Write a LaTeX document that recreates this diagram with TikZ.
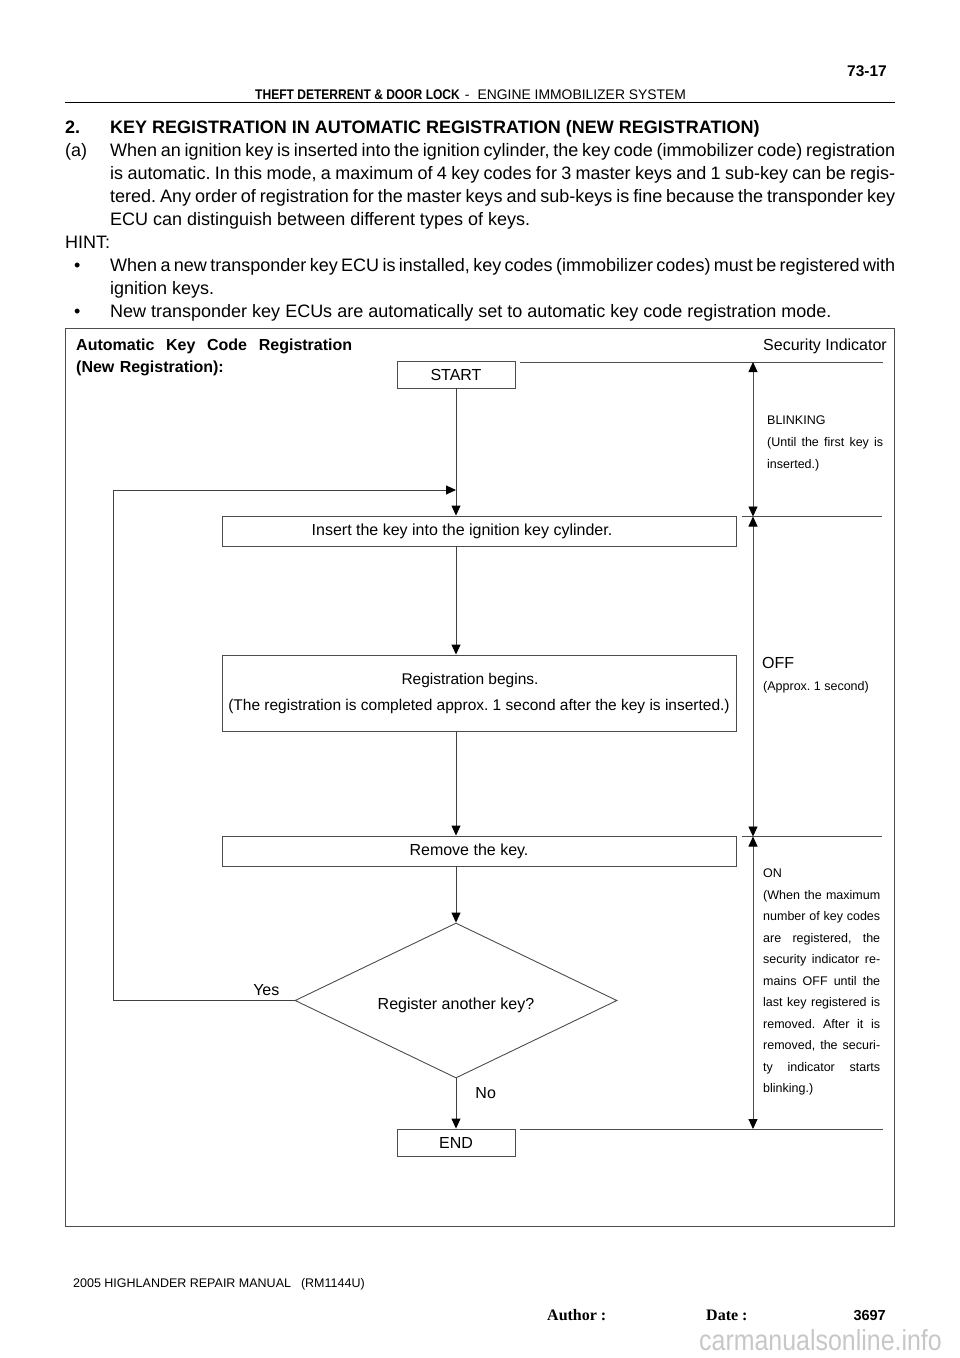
\documentclass[tikz,border=0pt]{standalone}
\usepackage{fontspec}
\setmainfont{Liberation Sans}
\newfontfamily\condsans{Liberation Sans}[FakeStretch=0.86]
\newfontfamily\timesfont{Liberation Serif}
\usetikzlibrary{positioning,arrows.meta,shapes.geometric}
\newcommand{\fillline}[2]{\makebox[#1][s]{\spaceskip=0pt\xspaceskip=0pt #2}}
\frenchspacing

\begin{document}
\begin{tikzpicture}[x=1pt, y=-1pt, inner sep=0pt,
    >={Triangle[length=10pt,width=9pt,color=black]},
    body/.style={anchor=base west, font=\fontsize{18}{23}\selectfont},
    box/.style={draw=black!70, line width=0.9pt, font=\fontsize{16}{26}\selectfont},
    note/.style={anchor=base west, align=left, text width=124pt},
    flow/.style={->, draw=black!75, line width=0.9pt},
    rule/.style={draw=black!70, line width=0.9pt}]
  \useasboundingbox (0,0) rectangle (960,1358);%
  % page header
  \node[anchor=base east, font=\fontsize{15.5}{18}\selectfont\bfseries] (pageno) at (887,76) {73-17};%
  \node[anchor=base west, font=\fontsize{14}{16}\selectfont] (chapter) at (255,99)%
  {{\condsans\bfseries THEFT DETERRENT \& DOOR LOCK}\hspace{5pt}-\hspace{8pt}{\fontsize{13.9}{16}\selectfont ENGINE IMMOBILIZER SYSTEM}};%
  \draw[line width=1.6pt] (65,102.5) -- (895,102.5);%
  % text above the chart
  \node[body] (secno) at (65,133) {\textbf{2.}};%
  \node[body] (sec) at (110,133) {\textbf{KEY REGISTRATION IN AUTOMATIC REGISTRATION (NEW REGISTRATION)}};%
  \node[body] (itema) at (65,156) {(a)};%
  \node[body] (a1) at (110,156) {\fillline{785pt}{When an ignition key is inserted into the ignition cylinder, the key code (immobilizer code) registration}};%
  \node[body] (a2) at (110,179) {\fillline{785pt}{is automatic. In this mode, a maximum of 4 key codes for 3 master keys and 1 sub-key can be regis-}};%
  \node[body] (a3) at (110,202) {\fillline{785pt}{tered. Any order of registration for the master keys and sub-keys is fine because the transponder key}};%
  \node[body] (a4) at (110,225) {ECU can distinguish between different types of keys.};%
  \node[body] (hint) at (65,248) {HINT:};%
  \node[body] (dot1) at (74,271) {\textbullet};%
  \node[body] (b1) at (110,271) {\fillline{785pt}{When a new transponder key ECU is installed, key codes (immobilizer codes) must be registered with}};%
  \node[body] (b2) at (110,294) {ignition keys.};%
  \node[body] (dot2) at (74,317) {\textbullet};%
  \node[body] (b3) at (110,317) {New transponder key ECUs are automatically set to automatic key code registration mode.};%
  % chart frame and titles
  \draw[rule] (65,328) rectangle (894,1226);%
  \node[note, text width=300pt, font=\fontsize{16}{22}\selectfont\bfseries] (title) at (76,350)%
  {\fillline{276pt}{Automatic Key Code Registration}\\(New Registration):};%
  \node[anchor=base east, font=\fontsize{16}{20}\selectfont] (indicator) at (887,350) {Security Indicator};%
  % flow chart
  \node[box, minimum width=118pt, minimum height=27pt] (start) at (456,374.5) {START};%
  \node[box, minimum width=514pt, minimum height=30pt] (insert) at (479,531)%
  {\hspace*{-34pt}Insert the key into the ignition key cylinder.};%
  \node[box, minimum width=514pt, minimum height=76pt, align=center, font=\fontsize{15.5}{26}\selectfont] (reg) at (479,693)%
  {\hspace*{-18pt}Registration begins.\\(The registration is completed approx. 1 second after the key is inserted.)};%
  \node[box, minimum width=514pt, minimum height=30pt] (remove) at (479,851)%
  {\hspace*{-20pt}Remove the key.};%
  \node[box, diamond, aspect=2, minimum width=322pt, minimum height=155pt] (ask) at (456,1000.5)%
  {\raisebox{0pt}[18pt][0pt]{Register another key?}};%
  \node[box, minimum width=118pt, minimum height=27pt] (finish) at (456,1142.5) {END};%
  \coordinate (loopcorner) at (113,490);%
  \coordinate (join) at (456,490);%
  \draw[flow] (start) -- (start |- insert.north);%
  \draw[flow] (start |- insert.south) -- (start |- reg.north);%
  \draw[flow] (start |- reg.south) -- (start |- remove.north);%
  \draw[flow] (start |- remove.south) -- (ask.north);%
  \draw[flow] (ask.south) -- node[pos=0.3, anchor=west, xshift=19pt, font=\fontsize{16}{20}\selectfont] {No} (finish.north);%
  \draw[flow] (ask.west) -| (loopcorner) -- (join);%
  \node[above left=5pt and 15pt of ask.west, font=\fontsize{16}{20}\selectfont] (yes) {Yes};%
  % security indicator column
  \coordinate (ind1) at (753,362);%
  \coordinate (ind2) at (753,516.5);%
  \coordinate (ind3) at (753,836.5);%
  \coordinate (ind4) at (753,1129);%
  \draw[rule] (520,362) -- (883,362);%
  \draw[rule] (742,516.5) -- (882,516.5);%
  \draw[rule] (742,836.5) -- (882,836.5);%
  \draw[rule] (520,1129) -- (883,1129);%
  \draw[rule, <->] (ind1) -- (ind2);%
  \draw[rule, <->] (ind2) -- (ind3);%
  \draw[rule, <->] (ind3) -- (ind4);%
  \node[note, font=\fontsize{12.5}{22}\selectfont] (blink) at (767,424.5)%
  {BLINKING\\\fillline{116pt}{(Until the first key is}\\inserted.)};%
  \node[anchor=base west, font=\fontsize{16}{20}\selectfont] (off) at (762,668) {OFF};%
  \node[anchor=base west, font=\fontsize{12.5}{20}\selectfont] (offnote) at (763,690.5) {(Approx. 1 second)};%
  \node[note, font=\fontsize{12.5}{21.5}\selectfont] (on) at (763,877.5)%
  {ON\\\fillline{117pt}{(When the maximum}\\\fillline{117pt}{number of key codes}\\%
   \fillline{117pt}{are registered, the}\\\fillline{117pt}{security indicator re-}\\%
   \fillline{117pt}{mains OFF until the}\\\fillline{117pt}{last key registered is}\\%
   \fillline{117pt}{removed. After it is}\\\fillline{117pt}{removed, the securi-}\\%
   \fillline{117pt}{ty indicator starts}\\blinking.)};%
  % page footer
  \node[anchor=base west, font=\fontsize{12.5}{15}\selectfont] (manual) at (73,1287) {2005 HIGHLANDER REPAIR MANUAL\hspace{10pt}(RM1144U)};%
  \node[anchor=base west, font=\fontsize{16}{18}\timesfont\bfseries] (author) at (547,1320) {Author :};%
  \node[anchor=base west, font=\fontsize{16}{18}\timesfont\bfseries] (date) at (706,1320) {Date :};%
  \node[anchor=base east, font=\fontsize{14.5}{18}\selectfont\bfseries] (pages) at (886,1320) {3697};%
  \node[anchor=base east, text=black!22, font=\fontsize{29}{30}\condsans] (mark) at (942,1350) {carmanualsonline.info};%
\end{tikzpicture}
\end{document}
